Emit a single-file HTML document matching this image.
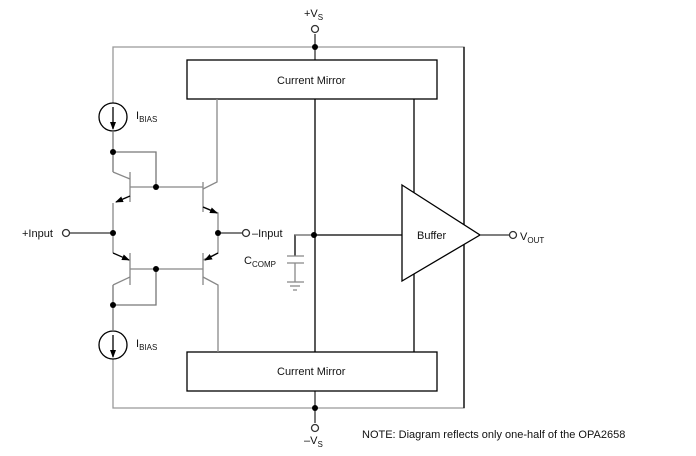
<!DOCTYPE html>
<html><head><style>body{margin:0;background:#fff}svg{display:block}text{font-family:"Liberation Sans",Arial,sans-serif;fill:#111}</style></head><body>
<svg width="696" height="456" viewBox="0 0 696 456" xmlns="http://www.w3.org/2000/svg">
<defs><marker id="a" markerWidth="8" markerHeight="8" refX="7" refY="4" orient="auto" markerUnits="userSpaceOnUse"><path d="M0,1 L8,4 L0,7z" fill="#000"/></marker></defs>
<g fill="none" stroke-width="1.3">
<path d="M113,103 V47 H464 V408 H113 V359" stroke="#999"/>
<path d="M464,47 V408" stroke="#000"/>
<path d="M315,34 V60 M315,391 V423" stroke="#333"/>
<rect x="187" y="60" width="250" height="39" stroke="#000" fill="#fff"/>
<rect x="187" y="352" width="250" height="39" stroke="#000" fill="#fff"/>
<path d="M315,99 V352 M414,99 V352" stroke="#000"/>
<circle cx="113" cy="117" r="14" stroke="#000"/>
<circle cx="113" cy="345" r="14" stroke="#000"/>
<path d="M113,107 V129" stroke="#000" marker-end="url(#a)"/>
<path d="M113,335 V357" stroke="#000" marker-end="url(#a)"/>
<path d="M113,131 V152 H156 V187 M113,152 V172" stroke="#777"/>
<path d="M113,331 V305 H156 V269 M113,305 V285" stroke="#777"/>
<g stroke="#888">
<path d="M130,172 V202 M203,182 V212 M130,253 V285 M203,253 V285"/>
<path d="M130,187 H203 M130,269 H203"/>
<path d="M113,172 L130,179 M113,203 V253 M130,277 L113,285"/>
<path d="M217,99 V182 L203,189 M203,207 L218,213 V253 L203,260 M203,277 L218,285 V352"/>
<path d="M130,196 L116,202" stroke="#000" marker-end="url(#a)"/>
<path d="M113,253 L129,260" stroke="#000" marker-end="url(#a)"/>
<path d="M203,207 L217,213" stroke="#000" marker-end="url(#a)"/>
<path d="M218,253 L205,260" stroke="#000" marker-end="url(#a)"/>
</g>
<path d="M70,233 H113 M218,233 H243" stroke="#333"/>
<circle cx="66" cy="233" r="3.5" stroke="#333" fill="#fff"/>
<circle cx="246" cy="233" r="3.5" stroke="#333" fill="#fff"/>
<circle cx="315" cy="29" r="3.5" stroke="#333" fill="#fff"/>
<circle cx="315" cy="428" r="3.5" stroke="#333" fill="#fff"/>
<path d="M295,256 V235 H402" stroke="#000"/>
<path d="M295,235 H315" stroke="#888"/>
<path d="M287,256 H304 M287,263 H304 M295,263 V282 M287,282 H304 M290,286 H300 M293,290 H297" stroke="#888"/>
<path d="M402,185 L480,235 L402,281 Z" stroke="#000" fill="#fff"/>
<path d="M480,235 H510" stroke="#333"/>
<circle cx="513" cy="235" r="3.5" stroke="#333" fill="#fff"/>
</g>
<g fill="#000">
<circle cx="315" cy="47" r="3"/><circle cx="315" cy="408" r="3"/>
<circle cx="113" cy="152" r="3"/><circle cx="156" cy="187" r="3"/>
<circle cx="113" cy="233" r="3"/><circle cx="218" cy="233" r="3"/>
<circle cx="156" cy="269" r="3"/><circle cx="113" cy="305" r="3"/>
<circle cx="314" cy="235" r="3"/>
</g>
<g font-size="11">
<text x="304" y="17">+V<tspan font-size="8" dy="3">S</tspan></text>
<text x="277" y="84">Current Mirror</text>
<text x="277" y="375">Current Mirror</text>
<text x="136" y="119">I<tspan font-size="8" dy="3">BIAS</tspan></text>
<text x="136" y="347">I<tspan font-size="8" dy="3">BIAS</tspan></text>
<text x="22" y="237">+Input</text>
<text x="252" y="237">–Input</text>
<text x="244" y="264">C<tspan font-size="8" dy="3">COMP</tspan></text>
<text x="417" y="239">Buffer</text>
<text x="520" y="240">V<tspan font-size="8" dy="3">OUT</tspan></text>
<text x="304" y="444">–V<tspan font-size="8" dy="3">S</tspan></text>
<text x="362" y="438">NOTE: Diagram reflects only one-half of the OPA2658</text>
</g>
</svg>
</body></html>
